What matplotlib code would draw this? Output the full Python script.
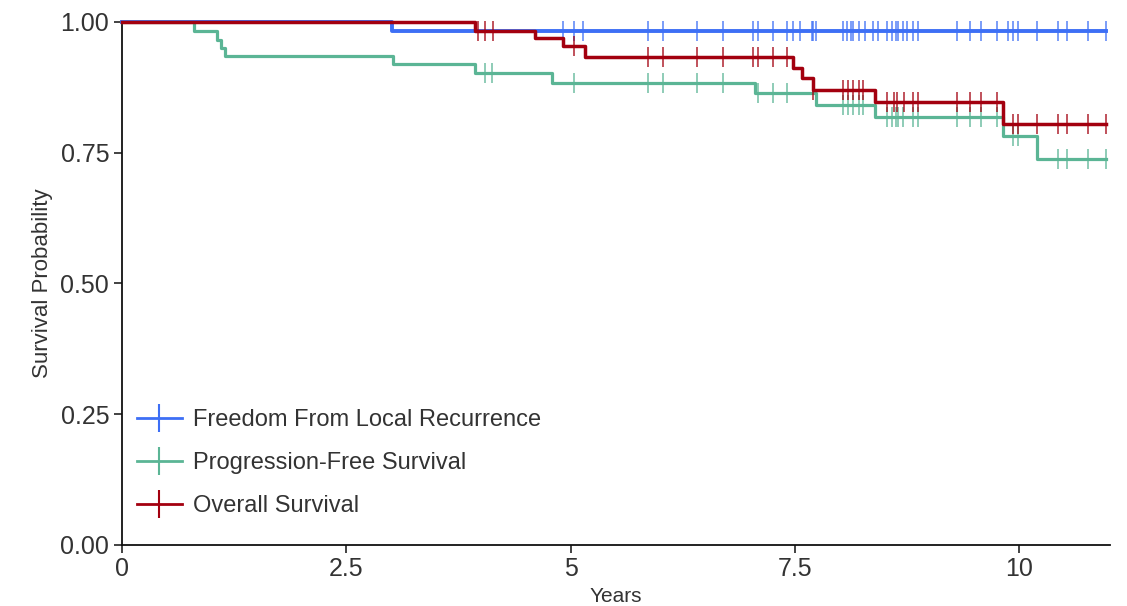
import numpy as np
import matplotlib
matplotlib.use("Agg")
import matplotlib.pyplot as plt
from matplotlib.lines import Line2D

plt.rcParams['font.family'] = ['Liberation Sans', 'DejaVu Sans']

# ---------------- data ----------------
series_names = ["Freedom From Local Recurrence", "Progression-Free Survival", "Overall Survival"]
series_colors = ["#3d6ff5", "#5bb595", "#a3000f"]

# step times (years) and survival after each step
fflr_times = [0.0, 3.01]
fflr_surv = [1.0, 0.983]
fflr_censor = [4.92, 5.04, 5.14, 5.86, 6.03, 6.41, 6.70, 7.03, 7.09, 7.25, 7.41, 7.48,
               7.56, 7.69, 7.70, 7.73, 8.04, 8.08, 8.12, 8.15, 8.21, 8.28, 8.37, 8.42,
               8.53, 8.58, 8.62, 8.65, 8.70, 8.75, 8.81, 8.87, 9.31, 9.45, 9.57, 9.75,
               9.87, 9.93, 9.98, 10.20, 10.43, 10.53, 10.76, 10.96]

pfs_times = [0.0, 0.81, 1.06, 1.11, 1.15, 3.02, 3.94, 4.79, 7.06, 7.73, 8.39, 9.82, 10.20]
pfs_surv = [1.0, 0.983, 0.966, 0.950, 0.935, 0.919, 0.902, 0.883, 0.864, 0.841, 0.818, 0.781, 0.738]
pfs_censor = [4.05, 4.12, 5.04, 5.86, 6.03, 6.41, 6.70, 7.09, 7.25, 7.41,
              8.04, 8.09, 8.15, 8.21, 8.26, 8.53, 8.58, 8.62, 8.65, 8.70, 8.81, 8.87,
              9.31, 9.45, 9.57, 9.75, 9.93, 9.98, 10.43, 10.53, 10.76, 10.96]

os_times = [0.0, 3.93, 4.60, 4.92, 5.16, 7.48, 7.58, 7.70, 8.39, 9.82]
os_surv = [1.0, 0.983, 0.969, 0.953, 0.933, 0.912, 0.893, 0.870, 0.846, 0.805]
os_censor = [3.97, 4.05, 4.14, 5.04, 5.86, 6.03, 6.41, 6.70, 7.03, 7.09, 7.25, 7.41, 7.70,
             8.04, 8.09, 8.15, 8.21, 8.26, 8.53, 8.60, 8.64, 8.71, 8.81, 8.87,
             9.31, 9.45, 9.57, 9.75, 9.93, 9.98, 10.20, 10.43, 10.53, 10.76, 10.96]

followup_end = 10.96

x_ticks = [0, 2.5, 5, 7.5, 10]
x_ticklabels = ["0", "2.5", "5", "7.5", "10"]
y_ticks = [0.0, 0.25, 0.5, 0.75, 1.0]
y_ticklabels = ["0.00", "0.25", "0.50", "0.75", "1.00"]

# ---------------- plot ----------------
fig = plt.figure(figsize=(11.27, 6.06), dpi=100)
ax = fig.add_axes([0.108, 0.1007, 0.877, 0.8633])

curves = [(fflr_times, fflr_surv, fflr_censor),
          (pfs_times, pfs_surv, pfs_censor),
          (os_times, os_surv, os_censor)]
widths = [2.8, 2.3, 2.5]

for (t, s, c), col, lw in zip(curves, series_colors, widths):
    t_arr = np.array(t + [followup_end])
    s_arr = np.array(s + [s[-1]])
    ax.step(t_arr, s_arr, where='post', color=col, lw=lw, clip_on=False, zorder=3)
    idx = np.searchsorted(np.array(t), np.array(c), side='right') - 1
    cy = np.array(s)[idx]
    ax.plot(c, cy, ls='none', marker='|', ms=15, mew=1.2, color=col, alpha=0.8,
            clip_on=False, zorder=3)

ax.set_xlim(0, 11.01)
ax.set_ylim(0, 1.0)
ax.set_xticks(x_ticks)
ax.set_xticklabels(x_ticklabels)
ax.set_yticks(y_ticks)
ax.set_yticklabels(y_ticklabels)

for sp in ['top', 'right']:
    ax.spines[sp].set_visible(False)
for sp in ['left', 'bottom']:
    ax.spines[sp].set_linewidth(1.3)
    ax.spines[sp].set_color('#111111')

ax.tick_params(axis='both', direction='out', length=6, width=1.2, color='#222222',
               labelsize=18, labelcolor='#333333', pad=3)

ax.set_ylabel("Survival Probability", fontsize=16, color='#333333', labelpad=5)
ax.set_xlabel("Years", fontsize=15, color='#333333', labelpad=4)

handles = [Line2D([0], [0], color=col, lw=2, marker='|', ms=20, mew=1.5)
           for col in series_colors]
leg = ax.legend(handles, series_names, loc='lower left', bbox_to_anchor=(-0.006, 0.012),
                frameon=False, fontsize=17, handlelength=1.9, handletextpad=0.45,
                labelspacing=0.9, borderaxespad=0.5)
for txt in leg.get_texts():
    txt.set_color('#333333')

fig.savefig("out.png", dpi=100)
